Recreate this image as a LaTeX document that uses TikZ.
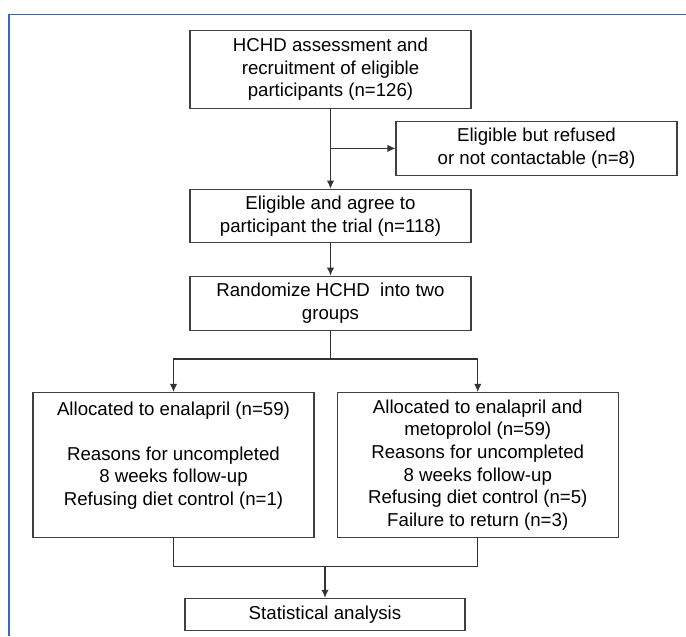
\documentclass[tikz,border=0pt]{standalone}
\usepackage{fontspec}
\setmainfont{Liberation Sans}
\usetikzlibrary{arrows.meta}
\definecolor{frameblue}{RGB}{58,102,192}
\begin{document}
\begin{tikzpicture}[x=0.75pt, y=-0.75pt,
	box/.style={draw=black!75, line width=0.8pt, inner sep=0pt, minimum width=210.75pt, align=center, font=\fontsize{14}{16.9}\selectfont},
	link/.style={black!80, line width=0.8pt},
	tip/.style={-{Latex[length=6pt,width=5.5pt]}}]
	
	\def \hsmall{41pt}
	\def \hlarge{108.6pt}
	
	\useasboundingbox (0,0) rectangle (686,636);
	
	% FRAME
	\draw[frameblue, line width=1pt] (686,14.3) -- (9,14.3) -- (9,636);
	
	% BOXES
	\node[box, minimum height=58.7pt] (assess) at (330.5,69.2) {HCHD assessment and\\recruitment of eligible\\participants (n=126)};
	\node[box, minimum height=\hsmall] (refused) at (536.5,148.4) {Eligible but refused\\or not contactable (n=8)};
	\node[box, minimum height=40.3pt] (agree) at (330.5,216) {Eligible and agree to\\participant the trial (n=118)};
	\node[box, minimum height=\hsmall] (random) at (330.5,303.4) {Randomize HCHD\ \ into two\\groups};
	\node[box, minimum height=\hlarge] (enal) at (173.5,464.9) {Allocated to enalapril (n=59)\\ ~ \\Reasons for uncompleted\\8 weeks follow-up\\Refusing diet control (n=1)\\ ~};
	\node[box, minimum height=\hlarge] (metop) at (477.75,464.9) {Allocated to enalapril and\\metoprolol (n=59)\\Reasons for uncompleted\\8 weeks follow-up\\Refusing diet control (n=5)\\Failure to return (n=3)};
	\node[box, minimum width=210pt, minimum height=24.3pt] (stats) at (325,614.5) {Statistical analysis};
	
	\coordinate (split) at (330.5,359);
	\coordinate (join) at (325,566.7);
	
	% CONNECTORS
	\draw[link,tip] (assess) -- (agree);
	\draw[link,tip] (assess.south |- refused.west) -- (refused.west);
	\draw[link,tip] (agree) -- (random);
	\draw[link] (random) -- (split);
	\draw[link,tip] (split) -| (enal.north);
	\draw[link,tip] (split) -| (metop.north);
	\draw[link] (enal.south) |- (join) -| (metop.south);
	\draw[link,tip] (join) -- (stats);
	
\end{tikzpicture}
\end{document}
